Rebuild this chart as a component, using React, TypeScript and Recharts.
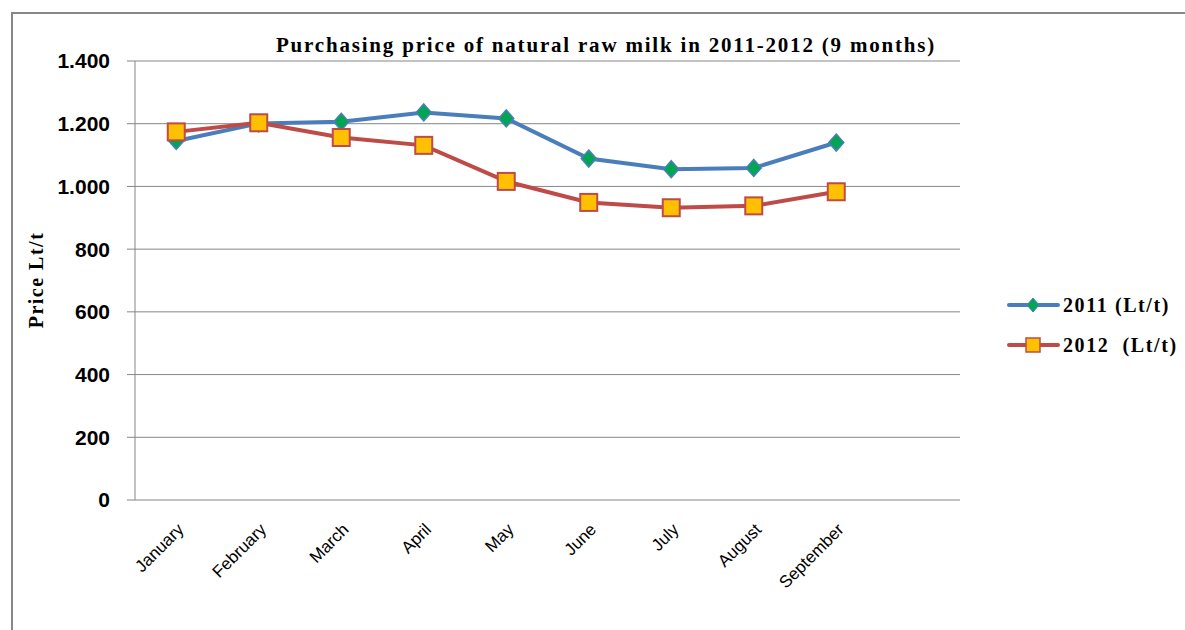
import React from "react";
import { LineChart, Line, XAxis, YAxis, CartesianGrid } from "recharts";

const months = ["January", "February", "March", "April", "May", "June", "July", "August", "September"];
const price2011 = [1145, 1201, 1206, 1236, 1217, 1089, 1055, 1059, 1140];
const price2012 = [1174, 1203, 1156, 1131, 1016, 949, 932, 938, 983];
const yTicks = [0, 200, 400, 600, 800, 1000, 1200, 1400];
const slotTicks = [0, 1, 2, 3, 4, 5, 6, 7, 8, 9, 10];
const monthTicks = months.map((_, i) => i + 0.5);
const seriesNames = ["2011 (Lt/t)", "2012  (Lt/t)"];

const data = months.map((m, i) => ({ month: m, x: i + 0.5, y2011: price2011[i], y2012: price2012[i] }));

const BLUE = "#4A7EBB";
const GREEN = "#00A651";
const RED = "#BE4B48";
const GOLD = "#FFC000";
const GRID = "#868686";

const fmt = (v: number) => (v >= 1000 ? `${Math.floor(v / 1000)}.${String(v % 1000).padStart(3, "0")}` : String(v));

const Diamond = (props: any) => {
  const { cx, cy, index } = props;
  if (cx == null || cy == null) return null;
  return (
    <polygon
      key={`d-${index}`}
      points={`${cx},${cy - 8.5} ${cx + 7.5},${cy} ${cx},${cy + 8.5} ${cx - 7.5},${cy}`}
      fill={GREEN}
      stroke={BLUE}
      strokeWidth={1.5}
    />
  );
};

const Square = (props: any) => {
  const { cx, cy, index } = props;
  if (cx == null || cy == null) return null;
  return <rect key={`s-${index}`} x={cx - 8.5} y={cy - 8.5} width={17} height={17} fill={GOLD} stroke={RED} strokeWidth={2} />;
};

const serif = "'Liberation Serif', 'Times New Roman', serif";

const LegendBox = () => (
  <div style={{ position: "absolute", left: 1006, top: 285, fontFamily: serif, fontWeight: "bold", fontSize: 20, letterSpacing: 1.6, color: "#000" }}>
    <div style={{ display: "flex", alignItems: "center", height: 40 }}>
      <svg width={57} height={20}>
        <line x1={3} y1={10} x2={52} y2={10} stroke={BLUE} strokeWidth={4} strokeLinecap="round" />
        <polygon points="27,3 33,10 27,17 21,10" fill={GREEN} stroke={BLUE} strokeWidth={1} />
      </svg>
      <span style={{ whiteSpace: "pre" }}>{seriesNames[0]}</span>
    </div>
    <div style={{ display: "flex", alignItems: "center", height: 40 }}>
      <svg width={57} height={20}>
        <line x1={3} y1={10} x2={52} y2={10} stroke={RED} strokeWidth={4} strokeLinecap="round" />
        <rect x={20} y={3} width={14} height={14} fill={GOLD} stroke={RED} strokeWidth={1.5} />
      </svg>
      <span style={{ whiteSpace: "pre" }}>{seriesNames[1]}</span>
    </div>
  </div>
);

export default function App() {
  return (
    <div style={{ position: "absolute", left: 0, top: 0, width: 1185, height: 630, background: "#fff", overflow: "hidden" }}>
      <div style={{ position: "absolute", left: 11, top: 12, width: 1174, height: 618, borderTop: "2px solid #888", borderLeft: "2px solid #888" }} />
      <div
        style={{
          position: "absolute",
          left: 606,
          top: 35,
          transform: "translateX(-50%)",
          whiteSpace: "nowrap",
          fontFamily: serif,
          fontWeight: "bold",
          fontSize: 21,
          letterSpacing: 1.8,
          lineHeight: "21px",
          color: "#000",
        }}
      >
        Purchasing price of natural raw milk in 2011-2012 (9 months)
      </div>
      <div
        style={{
          position: "absolute",
          left: 36,
          top: 280,
          transform: "translate(-50%, -50%) rotate(-90deg)",
          whiteSpace: "nowrap",
          fontFamily: serif,
          fontWeight: "bold",
          fontSize: 20,
          letterSpacing: 1.5,
          color: "#000",
        }}
      >
        Price Lt/t
      </div>
      <LegendBox />
      <LineChart width={1185} height={630} data={data} margin={{ top: 61, right: 225, bottom: 0, left: 55 }}>
        <CartesianGrid vertical={false} stroke={GRID} strokeWidth={1} />
        <XAxis
          xAxisId="slots"
          type="number"
          dataKey="x"
          domain={[0, 10]}
          ticks={slotTicks}
          tick={false}
          height={0}
          stroke={GRID}
          tickSize={6}
          allowDataOverflow
        />
        <XAxis
          xAxisId="labels"
          type="number"
          dataKey="x"
          domain={[0, 10]}
          ticks={monthTicks}
          interval={0}
          tickFormatter={(v: number) => months[Math.floor(v)] ?? ""}
          height={130}
          axisLine={false}
          tickLine={false}
          tickSize={0}
          tickMargin={22}
          angle={-45}
          textAnchor="end"
          tick={{ fill: "#000", fontFamily: "'Liberation Sans', sans-serif", fontSize: 17 }}
        />
        <YAxis
          domain={[0, 1400]}
          ticks={yTicks}
          width={80}
          stroke={GRID}
          tickSize={8}
          tickMargin={17}
          tickFormatter={fmt}
          tick={{ fill: "#000", fontFamily: "'Liberation Sans', sans-serif", fontWeight: "bold", fontSize: 21 }}
          interval={0}
        />
        <Line
          xAxisId="slots"
          type="linear"
          dataKey="y2011"
          stroke={BLUE}
          strokeWidth={4}
          dot={<Diamond />}
          activeDot={false}
          isAnimationActive={false}
        />
        <Line
          xAxisId="slots"
          type="linear"
          dataKey="y2012"
          stroke={RED}
          strokeWidth={4}
          dot={<Square />}
          activeDot={false}
          isAnimationActive={false}
        />
      </LineChart>
    </div>
  );
}
